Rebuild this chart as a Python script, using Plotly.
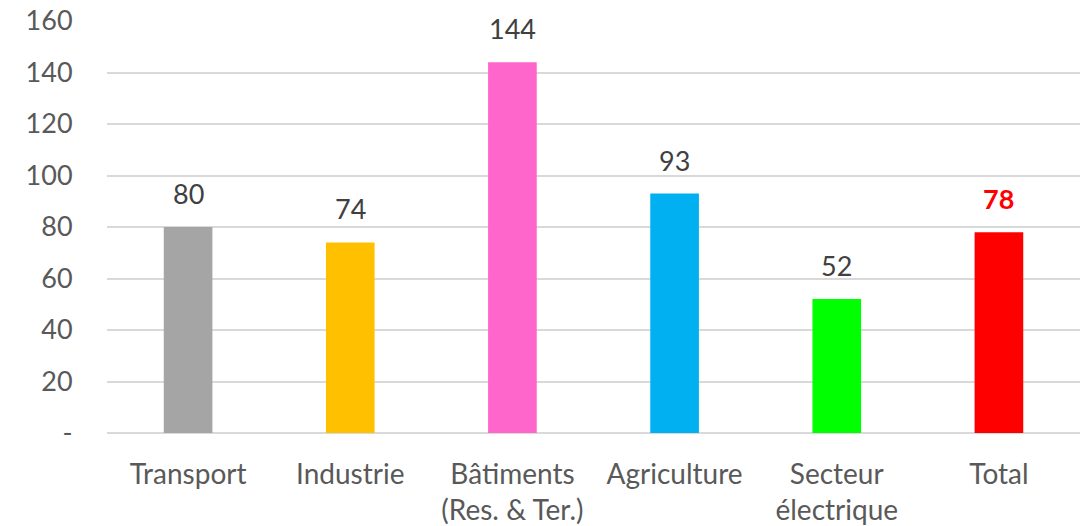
import plotly.graph_objects as go

categories = ["Transport", "Industrie", "Bâtiments<br>(Res. & Ter.)", "Agriculture",
              "Secteur<br>électrique", "Total"]
values = [80, 74, 144, 93, 52, 78]
colors = ["#A5A5A5", "#FFC000", "#FF66CC", "#00B0F0", "#00FF00", "#FF0000"]
y_ticks = [0, 20, 40, 60, 80, 100, 120, 140, 160]
y_tick_text = ["-", "20", "40", "60", "80", "100", "120", "140", "160"]

font_family = "Lato, 'Open Sans', sans-serif"
fs = 27

fig = go.Figure(
    go.Bar(x=categories, y=values, marker=dict(color=colors, line=dict(width=0)),
           hoverinfo="x+y")
)

# value labels above each bar; the total is emphasised in bold red
for cat, val in zip(categories, values):
    is_total = cat == "Total"
    fig.add_annotation(
        x=cat, y=val, yanchor="bottom", yshift=15, showarrow=False,
        text=f"<b>{val}</b>" if is_total else str(val),
        font=dict(family=font_family, size=fs,
                  color="#FF0000" if is_total else "#404040"),
    )

fig.update_layout(
    width=1087, height=526,
    margin=dict(l=107, r=7, t=21, b=93),
    paper_bgcolor="white", plot_bgcolor="white",
    bargap=0.7, showlegend=False,
    font=dict(family=font_family, size=fs, color="#595959"),
    xaxis=dict(showgrid=False, showline=False, ticks="outside", ticklen=16,
               tickcolor="rgba(0,0,0,0)", automargin=False,
               tickfont=dict(size=28, color="#595959")),
    yaxis=dict(range=[0, 160], tickvals=y_ticks, ticktext=y_tick_text,
               showgrid=True, gridcolor="#D9D9D9", gridwidth=2,
               zeroline=True, zerolinecolor="#D9D9D9", zerolinewidth=2,
               showline=False, ticks="outside", ticklen=28, automargin=False,
               tickcolor="rgba(0,0,0,0)", tickfont=dict(size=fs, color="#595959")),
)

fig.write_html("out.html")
